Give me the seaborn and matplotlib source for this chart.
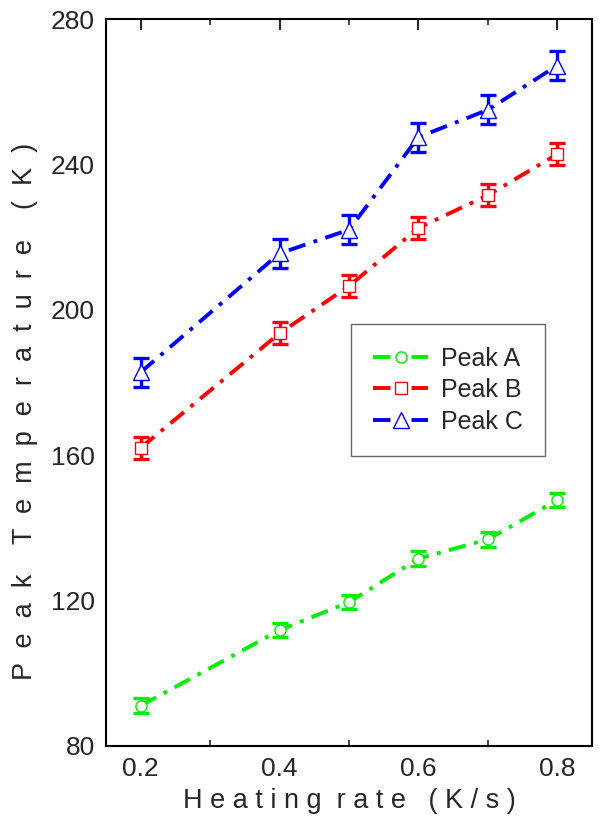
import matplotlib
matplotlib.use("Agg")
import matplotlib.pyplot as plt
import seaborn as sns
import pandas as pd

heating_rate = [0.2, 0.4, 0.5, 0.6, 0.7, 0.8]
peak_a = [91.0, 111.8, 119.5, 131.5, 136.8, 147.6]
peak_b = [162.0, 193.5, 206.5, 222.5, 231.5, 242.8]
peak_c = [182.8, 215.5, 222.0, 247.5, 255.0, 267.2]
err_a = [2.0, 2.0, 2.0, 2.0, 2.0, 2.0]
err_b = [3.0, 3.0, 3.0, 3.0, 3.0, 3.0]
err_c = [4.0, 4.0, 4.0, 4.0, 4.0, 4.0]
series_names = ["Peak A", "Peak B", "Peak C"]
colors = ["#00ee00", "#ff0000", "#0000ff"]
markers = ["o", "s", "^"]
marker_sizes = [8, 9, 11]
x_ticks = [0.2, 0.4, 0.6, 0.8]
y_ticks = [80, 120, 160, 200, 240, 280]

sns.set_style("white")
plt.rcParams['font.family'] = ['Liberation Sans', 'DejaVu Sans']

df = pd.DataFrame({
    "rate": heating_rate * 3,
    "temp": peak_a + peak_b + peak_c,
    "err": err_a + err_b + err_c,
    "series": sum([[n] * len(heating_rate) for n in series_names], []),
})

fig = plt.figure(figsize=(6.0, 8.23), dpi=100)
ax = fig.add_axes([0.1767, 0.0939, 0.81, 0.8830])

palette = dict(zip(series_names, colors))
sns.lineplot(data=df, x="rate", y="temp", hue="series", style="series",
             palette=palette, markers=dict(zip(series_names, markers)),
             dashes={n: (4.5, 2.2, 1, 2.2) for n in series_names},
             linewidth=2.8, markersize=9, ax=ax, zorder=3)

for line in ax.get_lines():
    line.set_markerfacecolor("white")
    line.set_markeredgewidth(1.0)
    line.set_markeredgecolor(line.get_color())

for name, col, ms in zip(series_names, colors, marker_sizes):
    for line in ax.get_lines():
        if line.get_label() == name or matplotlib.colors.to_hex(line.get_color()) == col:
            line.set_markersize(ms)

for name, col in zip(series_names, colors):
    sub = df[df.series == name]
    ax.errorbar(sub.rate, sub.temp, yerr=sub.err, fmt="none", ecolor=col,
                elinewidth=2.4, capsize=6, capthick=2.4, zorder=2)

ax.set_xlim(0.15, 0.85)
ax.set_ylim(80, 280)
ax.set_xticks(x_ticks)
ax.set_xticks([0.3, 0.5, 0.7], minor=True)
ax.set_yticks(y_ticks)
ax.tick_params(axis="both", which="major", direction="in", length=8, width=1.5,
               top=True, right=False, labelsize=19, pad=8)
ax.tick_params(axis="x", which="minor", direction="in", length=4, width=1.2,
               top=True, bottom=True)
for s in ax.spines.values():
    s.set_linewidth(1.5)
    s.set_color("black")

ax.set_xlabel("H e a t i n g  r a t e   ( K / s )", fontsize=19.5, labelpad=5)
ax.set_ylabel("P  e  a  k    T  e  m  p  e  r  a  t  u  r  e    (  K  )",
              fontsize=19.5, labelpad=10)
ax.yaxis.set_label_coords(-0.14, 0.46)

handles, labels = ax.get_legend_handles_labels()
leg = ax.legend(handles, labels, loc="upper left", bbox_to_anchor=(0.504, 0.58),
                fontsize=18, frameon=True, fancybox=False, edgecolor="#444444",
                borderpad=0.9, handlelength=2.2, handletextpad=0.5, labelspacing=0.3,
                borderaxespad=0)
leg.get_frame().set_linewidth(1.0)

fig.savefig("out.png", dpi=100)
